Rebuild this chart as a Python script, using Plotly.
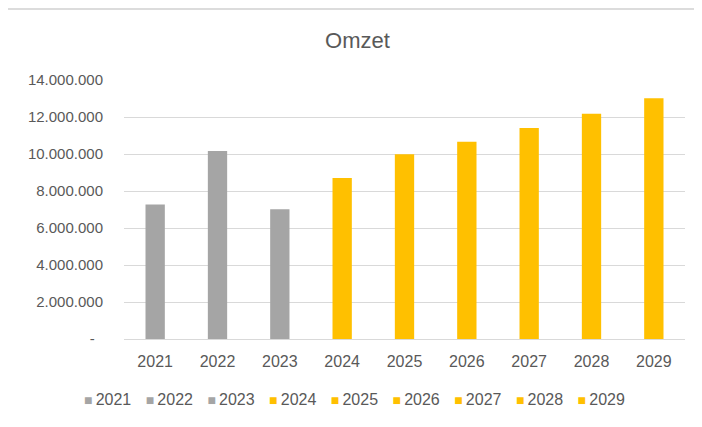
import plotly.graph_objects as go

# ---- data ----
years = ["2021", "2022", "2023", "2024", "2025", "2026", "2027", "2028", "2029"]
omzet = [7270000, 10160000, 7020000, 8700000, 9980000, 10660000, 11400000, 12180000, 13010000]
y_tick_values = [0, 2000000, 4000000, 6000000, 8000000, 10000000, 12000000, 14000000]
y_tick_labels = ["-\u00a0\u00a0", "2.000.000", "4.000.000", "6.000.000", "8.000.000",
                 "10.000.000", "12.000.000", "14.000.000"]
title_text = "Omzet"

# ---- style ----
GRAY = "#A5A5A5"
GOLD = "#FFC000"
bar_colors = [GRAY, GRAY, GRAY, GOLD, GOLD, GOLD, GOLD, GOLD, GOLD]
TEXT = "#595959"
GRID = "#D9D9D9"
FONT = "Liberation Sans"

fig = go.Figure()
for yr, val, col in zip(years, omzet, bar_colors):
    fig.add_trace(go.Bar(
        x=[yr], y=[val], name=yr, legendgroup=yr, showlegend=False,
        marker=dict(color=col, line=dict(width=0)), width=0.31,
    ))
# legend entries: compact square key placed right before the label, as in the original
n = len(years)
for i, (yr, col) in enumerate(zip(years, bar_colors)):
    fig.add_trace(go.Scatter(
        x=[None], y=[None], mode="markers", legendgroup=yr,
        name=f"<span style='color:{col};font-size:14px'>■</span>\u2009{yr}",
        marker=dict(symbol="square", size=7, color="rgba(0,0,0,0)"),
        legendwidth=58 if i == n - 1 else None,
    ))

fig.update_layout(
    width=694, height=419,
    paper_bgcolor="white", plot_bgcolor="white",
    barmode="overlay",
    margin=dict(l=116, r=17, t=72, b=88, autoexpand=False),
    font=dict(family=FONT, color=TEXT, size=15),
    title=dict(text=title_text, x=0.5036, xanchor="center", y=0.9224, yanchor="middle",
               yref="container", font=dict(family=FONT, size=22, color=TEXT)),
    showlegend=True,
    legend=dict(orientation="h", x=-0.1426, xanchor="left", y=-0.233, yanchor="middle",
                entrywidth=16.7, entrywidthmode="pixels", itemwidth=30,
                font=dict(family=FONT, size=16, color=TEXT), bgcolor="rgba(0,0,0,0)"),
    xaxis=dict(type="category", categoryorder="array", categoryarray=years,
               showgrid=False, showline=True, linecolor=GRID, linewidth=1,
               ticks="", ticklabelstandoff=8, tickfont=dict(size=16, color=TEXT)),
    yaxis=dict(range=[0, 14000000], tickvals=y_tick_values, ticktext=y_tick_labels,
               showgrid=True, gridcolor=GRID, gridwidth=1, zeroline=False,
               showline=False, ticks="", ticklabelstandoff=20,
               tickfont=dict(size=15, color=TEXT)),
    shapes=[
        dict(type="line", xref="paper", yref="paper", x0=-0.2086, x1=-0.2086, y0=-0.45, y1=1.2745,
             line=dict(color="#D0D0D0", width=1.5)),
        dict(type="line", xref="paper", yref="paper", x0=-0.2086, x1=1.1, y0=1.2745, y1=1.2745,
             line=dict(color="#D0D0D0", width=1.5)),
    ],
)

fig.write_html("out.html")
